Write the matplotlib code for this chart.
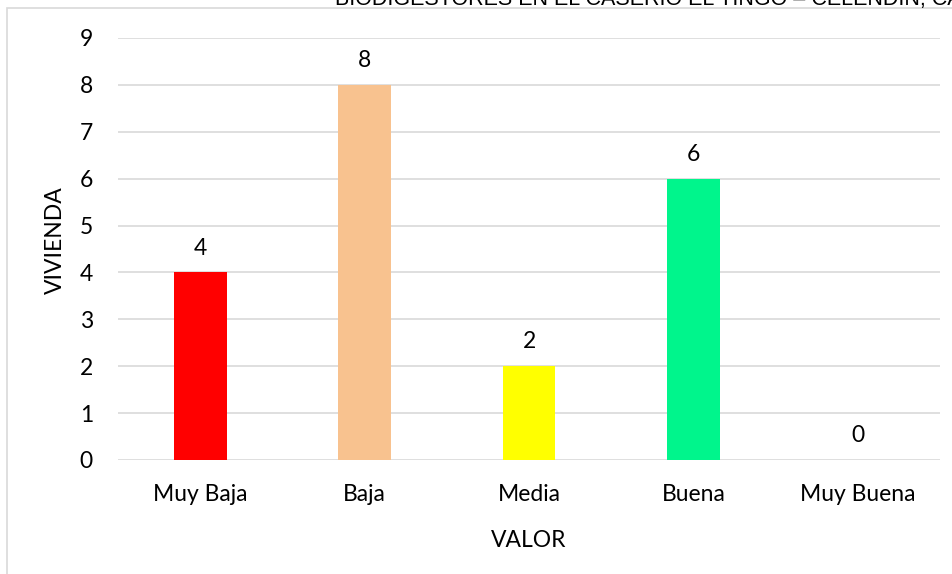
import matplotlib.pyplot as plt
from matplotlib.patches import Rectangle

categorias = ["Muy Baja", "Baja", "Media", "Buena", "Muy Buena"]
viviendas = [4, 8, 2, 6, 0]
colores = ["#ff0000", "#f8c28f", "#ffff00", "#00f58c", "#4472c4"]
titulo = "BIODIGESTORES EN EL CASERIO EL TINGO \u2013 CELENDIN, CAJAMARCA"

plt.rcParams['font.family'] = ['Lato', 'DejaVu Sans']

fig = plt.figure(figsize=(9.53, 5.74), dpi=100)
W, H = 953, 574

# marco del grafico
fig.patches.append(Rectangle((7 / W, -0.1), 1.1, 1 - 8 / H + 0.1,
                             transform=fig.transFigure, fill=False,
                             edgecolor="#d9d9d9", linewidth=1.2))

# titulo (recortado por arriba, como en la captura)
fig.text(335 / W, 1 - 5 / H, titulo, family=['Liberation Sans'],
         fontsize=15.5, va='baseline', ha='left', color='black')

ax = fig.add_axes([118 / W, 114 / H, 822 / W, 422 / H])
x = range(len(categorias))
bars = ax.bar(x, viviendas, width=0.32, color=colores, zorder=3)

for xi, v in zip(x, viviendas):
    ax.annotate(str(v), (xi, v), xytext=(0, 10), textcoords='offset points',
                ha='center', va='bottom', fontsize=16.5)

ax.set_xlim(-0.5, len(categorias) - 0.5)
ax.set_ylim(0, 9)
ax.set_yticks(range(0, 10))
ax.set_xticks(list(x))
ax.set_xticklabels(categorias)
ax.tick_params(axis='both', length=0, labelsize=16.5)
ax.tick_params(axis='x', pad=17)
ax.tick_params(axis='y', pad=18)
ax.grid(axis='y', color='#d9d9d9', linewidth=1.2, zorder=0)
for s in ax.spines.values():
    s.set_visible(False)

ax.set_xlabel("VALOR", fontsize=16.5, labelpad=18)
ax.set_ylabel("VIVIENDA", fontsize=16.5, va='center')
ax.yaxis.set_label_coords(-0.0766, 0.521)

fig.savefig("out.png", dpi=100)
